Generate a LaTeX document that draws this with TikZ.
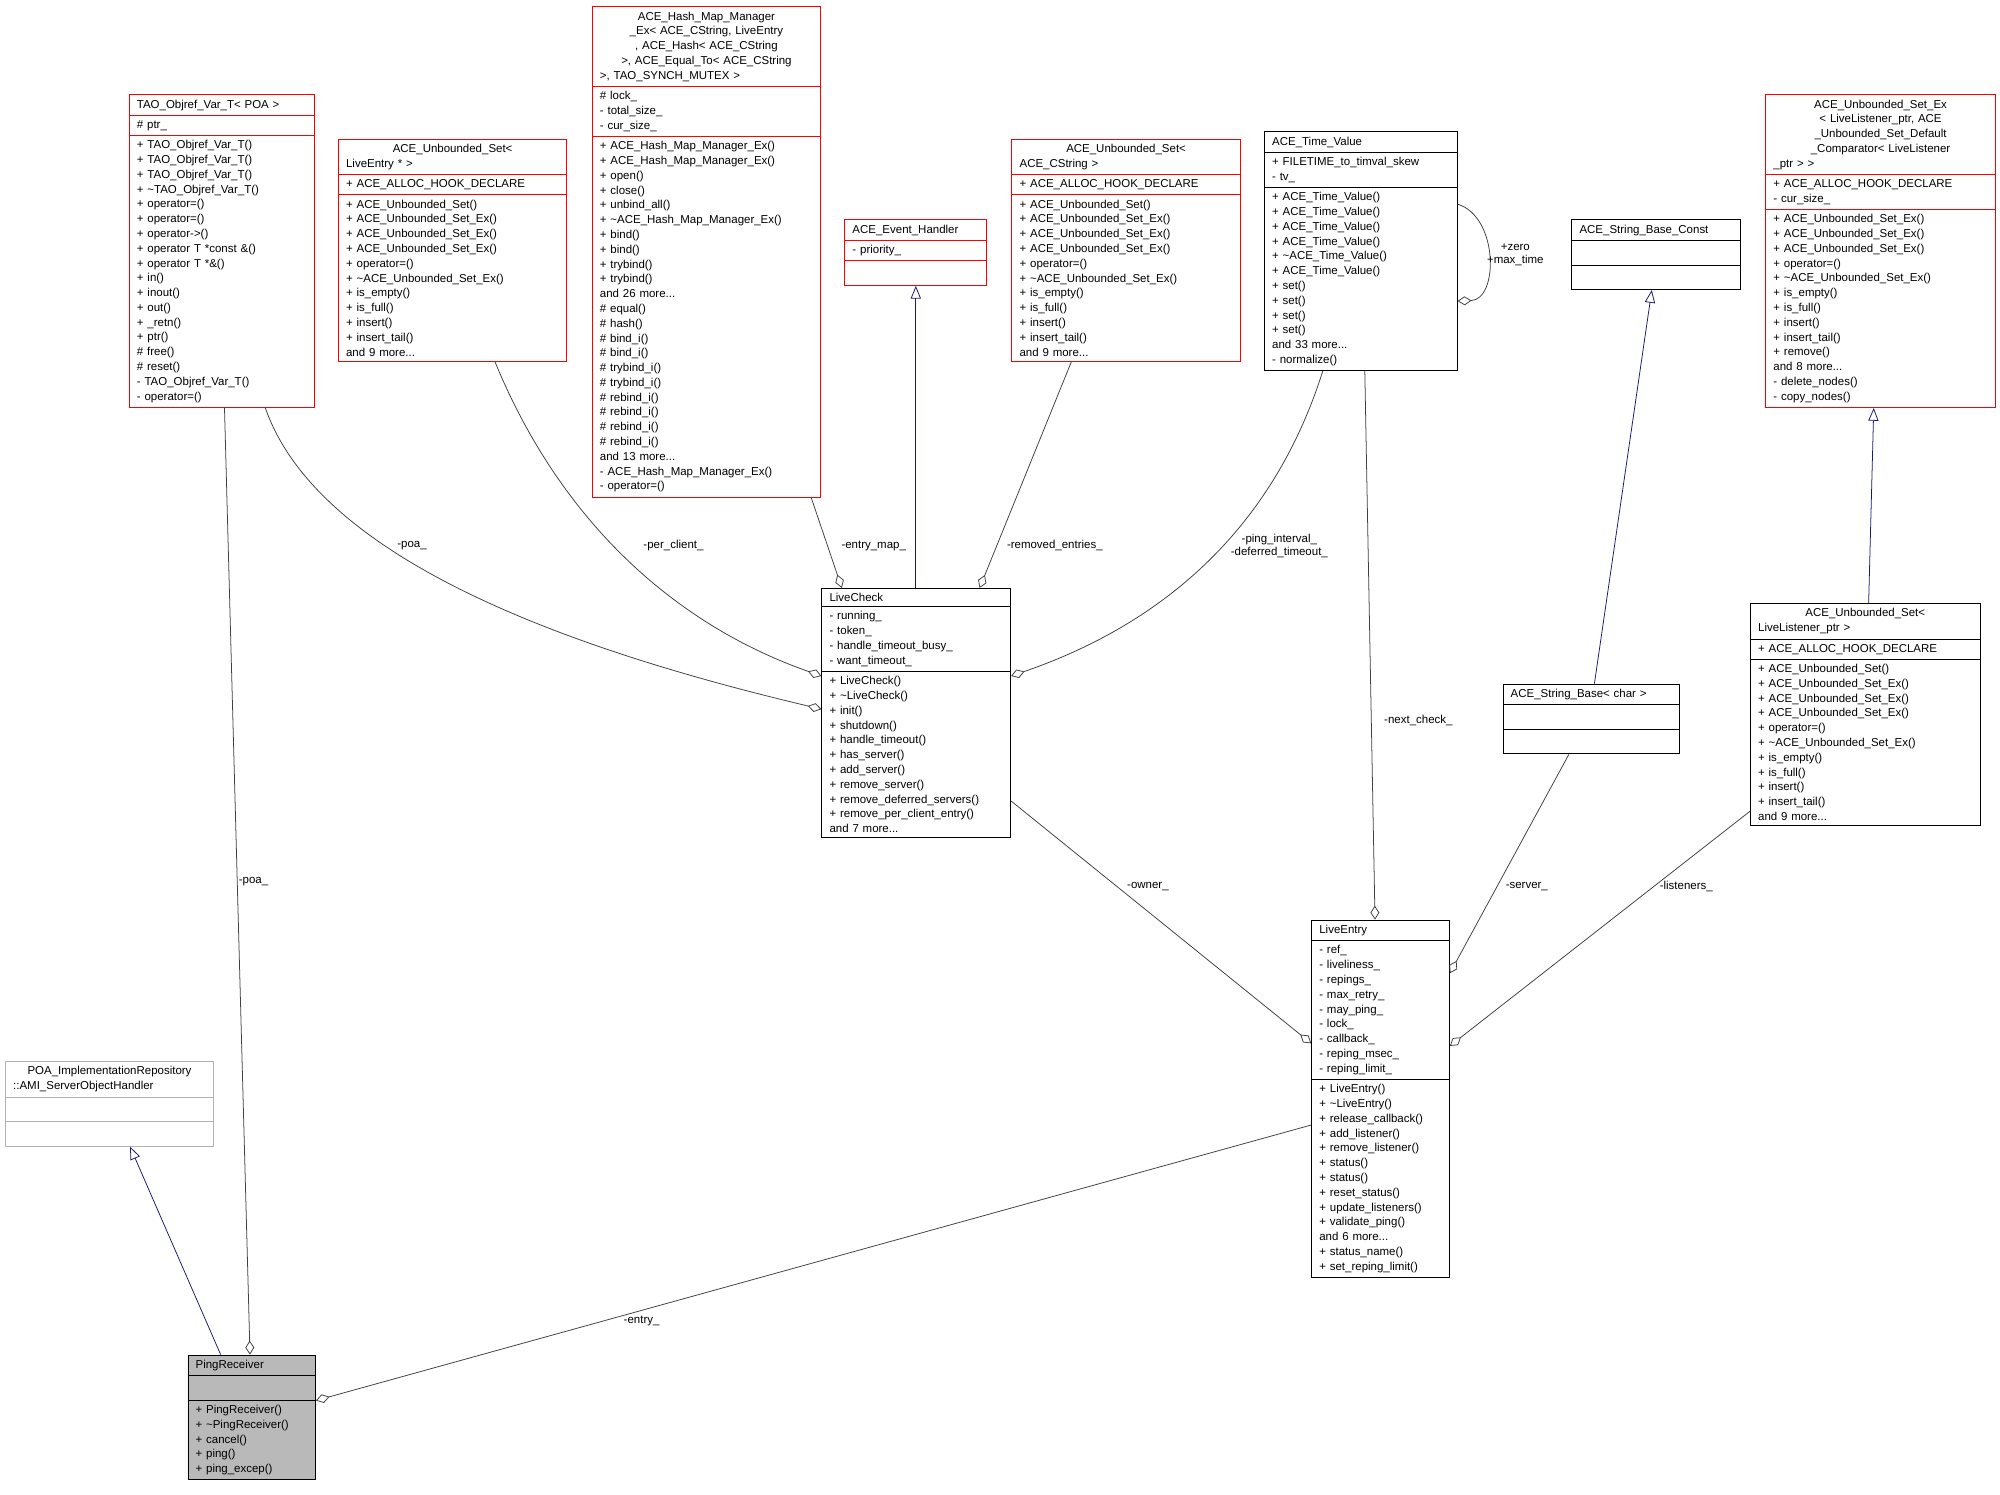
\documentclass[tikz,border=0pt]{standalone}
\usepackage{fontspec}
\setmainfont{Liberation Sans}
\usetikzlibrary{shapes.multipart,arrows.meta}
\definecolor{edg}{HTML}{404040}
\definecolor{inh}{HTML}{191970}
\newcommand{\tl}{\textasciitilde}
\newcommand{\ctr}{\centering}
\tikzset{
 cls/.style={rectangle split, rectangle split parts=3, draw=#1, anchor=north west,
   font=\fontsize{9}{11.6}\selectfont, inner xsep=6pt, inner ysep=3.5pt, align=left,
   line width=0.7pt},
 agg/.style={draw=edg, line width=0.6pt, -{Diamond[open,length=11pt,width=7pt]}},
 inhe/.style={draw=inh, line width=0.6pt, -{Triangle[open,length=10pt,width=8pt]}},
 lab/.style={font=\fontsize{9}{10}\selectfont, align=center, inner sep=1pt}
}
\begin{document}
\begin{tikzpicture}[x=1pt,y=-1pt]
\useasboundingbox[fill=white] (0,0) rectangle (1568,1172);

\node[cls=red, text width=133pt] (tao) at (101,74) {\ctr TAO\_Objref\_Var\_T< POA >
\nodepart{two}\# ptr\_
\nodepart{three}+ TAO\_Objref\_Var\_T()\\+ TAO\_Objref\_Var\_T()\\+ TAO\_Objref\_Var\_T()\\+ \tl TAO\_Objref\_Var\_T()\\+ operator=()\\+ operator=()\\+ operator->()\\+ operator T *const \&()\\+ operator T *\&()\\+ in()\\+ inout()\\+ out()\\+ \_retn()\\+ ptr()\\\# free()\\\# reset()\\- TAO\_Objref\_Var\_T()\\- operator=()};

\node[cls=red, text width=167pt] (use) at (265,109) {\ctr ACE\_Unbounded\_Set<\\LiveEntry * >
\nodepart{two}+ ACE\_ALLOC\_HOOK\_DECLARE
\nodepart{three}+ ACE\_Unbounded\_Set()\\+ ACE\_Unbounded\_Set\_Ex()\\+ ACE\_Unbounded\_Set\_Ex()\\+ ACE\_Unbounded\_Set\_Ex()\\+ operator=()\\+ \tl ACE\_Unbounded\_Set\_Ex()\\+ is\_empty()\\+ is\_full()\\+ insert()\\+ insert\_tail()\\and 9 more...};

\node[cls=red, text width=167pt] (hash) at (464,5) {\ctr ACE\_Hash\_Map\_Manager\\\_Ex< ACE\_CString, LiveEntry\\ *, ACE\_Hash< ACE\_CString\\ >, ACE\_Equal\_To< ACE\_CString\\ >, TAO\_SYNCH\_MUTEX >
\nodepart{two}\# lock\_\\- total\_size\_\\- cur\_size\_
\nodepart{three}+ ACE\_Hash\_Map\_Manager\_Ex()\\+ ACE\_Hash\_Map\_Manager\_Ex()\\+ open()\\+ close()\\+ unbind\_all()\\+ \tl ACE\_Hash\_Map\_Manager\_Ex()\\+ bind()\\+ bind()\\+ trybind()\\+ trybind()\\and 26 more...\\\# equal()\\\# hash()\\\# bind\_i()\\\# bind\_i()\\\# trybind\_i()\\\# trybind\_i()\\\# rebind\_i()\\\# rebind\_i()\\\# rebind\_i()\\\# rebind\_i()\\and 13 more...\\- ACE\_Hash\_Map\_Manager\_Ex()\\- operator=()};

\node[cls=red, text width=99pt] (evh) at (662,172) {\ctr ACE\_Event\_Handler
\nodepart{two}- priority\_
\nodepart{three}\strut};

\node[cls=red, text width=167pt] (usc) at (793,109) {\ctr ACE\_Unbounded\_Set<\\ACE\_CString >
\nodepart{two}+ ACE\_ALLOC\_HOOK\_DECLARE
\nodepart{three}+ ACE\_Unbounded\_Set()\\+ ACE\_Unbounded\_Set\_Ex()\\+ ACE\_Unbounded\_Set\_Ex()\\+ ACE\_Unbounded\_Set\_Ex()\\+ operator=()\\+ \tl ACE\_Unbounded\_Set\_Ex()\\+ is\_empty()\\+ is\_full()\\+ insert()\\+ insert\_tail()\\and 9 more...};

\node[cls=black, text width=139pt] (tv) at (991,103) {\ctr ACE\_Time\_Value
\nodepart{two}+ FILETIME\_to\_timval\_skew\\- tv\_
\nodepart{three}+ ACE\_Time\_Value()\\+ ACE\_Time\_Value()\\+ ACE\_Time\_Value()\\+ ACE\_Time\_Value()\\+ \tl ACE\_Time\_Value()\\+ ACE\_Time\_Value()\\+ set()\\+ set()\\+ set()\\+ set()\\and 33 more...\\- normalize()};

\node[cls=black, text width=120pt] (sbc) at (1232,172) {\ctr ACE\_String\_Base\_Const
\nodepart{two}\strut
\nodepart{three}\strut};

\node[cls=red, text width=168pt] (usx) at (1384,74) {\ctr ACE\_Unbounded\_Set\_Ex\\< LiveListener\_ptr, ACE\\\_Unbounded\_Set\_Default\\\_Comparator< LiveListener\\\_ptr > >
\nodepart{two}+ ACE\_ALLOC\_HOOK\_DECLARE\\- cur\_size\_
\nodepart{three}+ ACE\_Unbounded\_Set\_Ex()\\+ ACE\_Unbounded\_Set\_Ex()\\+ ACE\_Unbounded\_Set\_Ex()\\+ operator=()\\+ \tl ACE\_Unbounded\_Set\_Ex()\\+ is\_empty()\\+ is\_full()\\+ insert()\\+ insert\_tail()\\+ remove()\\and 8 more...\\- delete\_nodes()\\- copy\_nodes()};

\node[cls=black, text width=136pt] (lc) at (644,461) {\ctr LiveCheck
\nodepart{two}- running\_\\- token\_\\- handle\_timeout\_busy\_\\- want\_timeout\_
\nodepart{three}+ LiveCheck()\\+ \tl LiveCheck()\\+ init()\\+ shutdown()\\+ handle\_timeout()\\+ has\_server()\\+ add\_server()\\+ remove\_server()\\+ remove\_deferred\_servers()\\+ remove\_per\_client\_entry()\\and 7 more...};

\node[cls=black, text width=126pt] (sb) at (1178,536) {\ctr ACE\_String\_Base< char >
\nodepart{two}\strut
\nodepart{three}\strut};

\node[cls=black, text width=168pt] (usl) at (1372,473) {\ctr ACE\_Unbounded\_Set<\\LiveListener\_ptr >
\nodepart{two}+ ACE\_ALLOC\_HOOK\_DECLARE
\nodepart{three}+ ACE\_Unbounded\_Set()\\+ ACE\_Unbounded\_Set\_Ex()\\+ ACE\_Unbounded\_Set\_Ex()\\+ ACE\_Unbounded\_Set\_Ex()\\+ operator=()\\+ \tl ACE\_Unbounded\_Set\_Ex()\\+ is\_empty()\\+ is\_full()\\+ insert()\\+ insert\_tail()\\and 9 more...};

\node[cls=gray!60, text width=151pt] (poa) at (4,832) {\ctr POA\_ImplementationRepository\\::AMI\_ServerObjectHandler
\nodepart{two}\strut
\nodepart{three}\strut};

\node[cls=black, text width=96pt] (le) at (1028,721) {\ctr LiveEntry
\nodepart{two}- ref\_\\- liveliness\_\\- repings\_\\- max\_retry\_\\- may\_ping\_\\- lock\_\\- callback\_\\- reping\_msec\_\\- reping\_limit\_
\nodepart{three}+ LiveEntry()\\+ \tl LiveEntry()\\+ release\_callback()\\+ add\_listener()\\+ remove\_listener()\\+ status()\\+ status()\\+ reset\_status()\\+ update\_listeners()\\+ validate\_ping()\\and 6 more...\\+ status\_name()\\+ set\_reping\_limit()};

\node[cls=black, text width=88pt, fill=gray!55] (pr) at (147,1062) {\ctr PingReceiver
\nodepart{two}\strut
\nodepart{three}+ PingReceiver()\\+ \tl PingReceiver()\\+ cancel()\\+ ping()\\+ ping\_excep()};

% inheritance
\draw[inhe] ([xshift=74pt]lc.north west) -- ([xshift=56pt]evh.south west);
\draw[inhe] ([xshift=72pt]sb.north west) -- ([xshift=63pt]sbc.south west);
\draw[inhe] ([xshift=93pt]usl.north west) -- ([xshift=85pt]usx.south west);
\draw[inhe] ([xshift=26pt]pr.north west) -- ([xshift=98pt]poa.south west);

% aggregation
\draw[agg] ([xshift=75pt]tao.south west) -- ([xshift=49pt]pr.north west) node[lab,pos=0.5,right] (l1) {-poa\_};
\draw[agg] ([xshift=107pt]tao.south west) .. controls (250,440) and (450,510) .. ([yshift=-95pt]lc.north west);
\node[lab] (l2) at (323,428) {-poa\_};
\draw[agg] ([xshift=123pt]use.south west) .. controls (440,410) and (530,490) .. ([yshift=-69pt]lc.north west);
\node[lab] (l3) at (528,428) {-per\_client\_};
\draw[agg] ([xshift=172pt]hash.south west) -- ([xshift=16pt]lc.north west);
\node[lab] (l4) at (685,428) {-entry\_map\_};
\draw[agg] ([xshift=47pt]usc.south west) -- ([xshift=124pt]lc.north west);
\node[lab] (l5) at (827,428) {-removed\_entries\_};
\draw[agg] ([xshift=46pt]tv.south west) .. controls (990,440) and (880,500) .. ([yshift=-69pt]lc.north east);
\node[lab] (l6) at (1003,428) {-ping\_interval\_\\-deferred\_timeout\_};
\draw[agg] ([yshift=-57pt]tv.north east) .. controls (1175,170) and (1175,235) .. ([yshift=-133pt]tv.north east);
\node[lab] (l7) at (1188,200) {+zero\\+max\_time};
\draw[agg] ([xshift=79pt]tv.south west) -- ([xshift=50pt]le.north west);
\node[lab] (l8) at (1112,565) {-next\_check\_};
\draw[agg] ([yshift=-167pt]lc.north east) -- ([yshift=-97pt]le.north west);
\node[lab] (l9) at (900,695) {-owner\_};
\draw[agg] ([xshift=52pt]sb.south west) -- ([yshift=-42pt]le.north east);
\node[lab] (l10) at (1197,695) {-server\_};
\draw[agg] ([yshift=-163pt]usl.north west) -- ([yshift=-99pt]le.north east);
\node[lab] (l11) at (1322,695) {-listeners\_};
\draw[agg] ([yshift=-161pt]le.north west) -- ([yshift=-36pt]pr.north east);
\node[lab] (l12) at (503,1036) {-entry\_};
\end{tikzpicture}
\end{document}
